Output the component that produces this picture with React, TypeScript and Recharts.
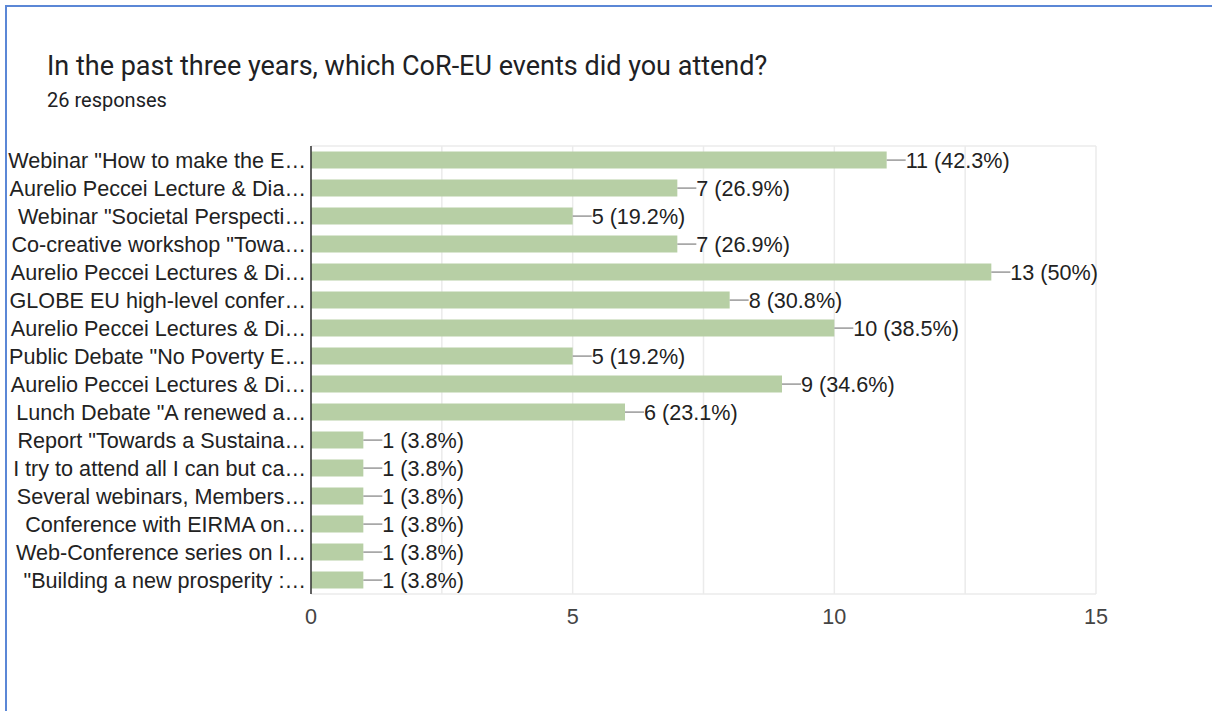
import { Bar, BarChart, CartesianGrid, LabelList, XAxis, YAxis } from "recharts";

const events = [
  'Webinar "How to make the E…',
  "Aurelio Peccei Lecture & Dia…",
  'Webinar "Societal Perspecti…',
  'Co-creative workshop "Towa…',
  "Aurelio Peccei Lectures & Di…",
  "GLOBE EU high-level confer…",
  "Aurelio Peccei Lectures & Di… ",
  'Public Debate "No Poverty E…',
  "Aurelio Peccei Lectures & Di…  ",
  'Lunch Debate "A renewed a…',
  'Report "Towards a Sustaina…',
  "I try to attend all I can but ca…",
  "Several webinars, Members…",
  "Conference with EIRMA on…",
  "Web-Conference series on I…",
  '"Building a new prosperity :…',
];
const counts = [11, 7, 5, 7, 13, 8, 10, 5, 9, 6, 1, 1, 1, 1, 1, 1];
const totalResponses = 26;
const xTicks = [0, 2.5, 5, 7.5, 10, 12.5, 15];

const data = events.map((name, i) => ({ name, count: counts[i] }));

const FONT = "'Liberation Sans', Arial, sans-serif";

const pct = (v: number) => {
  const p = ((v / totalResponses) * 100).toFixed(1);
  return p.endsWith(".0") ? p.slice(0, -2) : p;
};

function BarLabel(props: any) {
  const { x, y, width, height, value } = props;
  const x0 = Number(x) + Number(width);
  const cy = Number(y) + Number(height) / 2;
  return (
    <g>
      <line x1={x0} y1={cy} x2={x0 + 19} y2={cy} stroke="#999999" strokeWidth={1.5} />
      <text x={x0 + 19} y={cy} dominantBaseline="central" fontSize={21.6} fill="#222222" fontFamily={FONT}>
        {`${value} (${pct(value)}%)`}
      </text>
    </g>
  );
}

export default function App() {
  return (
    <div
      style={{
        position: "absolute",
        left: 0,
        top: 0,
        width: 1212,
        height: 711,
        background: "#ffffff",
        overflow: "hidden",
      }}
    >
      <div
        style={{
          position: "absolute",
          left: 5,
          top: 5,
          width: 1212,
          height: 711,
          borderTop: "2px solid #5b87d6",
          borderLeft: "2px solid #5b87d6",
        }}
      />
      <div
        style={{
          position: "absolute",
          left: 47,
          top: 50,
          fontFamily: "Roboto, sans-serif",
          fontSize: 27,
          color: "#202124",
          whiteSpace: "nowrap",
        }}
      >
        In the past three years, which CoR-EU events did you attend?
      </div>
      <div
        style={{
          position: "absolute",
          left: 47,
          top: 88,
          fontFamily: "Roboto, sans-serif",
          fontSize: 20,
          color: "#202124",
          whiteSpace: "nowrap",
        }}
      >
        26 responses
      </div>
      <div style={{ position: "absolute", left: 0, top: 0 }}>
        <BarChart
          width={1212}
          height={711}
          data={data}
          layout="vertical"
          margin={{ top: 146, right: 116, bottom: 87, left: 0 }}
          barCategoryGap="20%"
        >
          <CartesianGrid
            stroke="#ebebeb"
            strokeWidth={1.5}
            horizontalCoordinatesGenerator={({ offset }: any) => [offset.top, offset.top + offset.height]}
          />
          <XAxis
            type="number"
            domain={[0, 15]}
            ticks={xTicks}
            tickFormatter={(v: number) => (v % 5 === 0 ? String(v) : "")}
            axisLine={false}
            tickLine={false}
            tickSize={0}
            tickMargin={15}
            height={30}
            tick={{ fontSize: 21.6, fill: "#444444", fontFamily: FONT }}
          />
          <YAxis
            type="category"
            dataKey="name"
            width={311}
            interval={0}
            axisLine={{ stroke: "#333333", strokeWidth: 1.5 }}
            tickLine={false}
            tickSize={0}
            tickMargin={5}
            tick={{ fontSize: 21.6, fill: "#222222", fontFamily: FONT }}
          />
          <Bar dataKey="count" fill="#b7cfa5" isAnimationActive={false}>
            <LabelList dataKey="count" content={BarLabel} />
          </Bar>
        </BarChart>
      </div>
    </div>
  );
}
